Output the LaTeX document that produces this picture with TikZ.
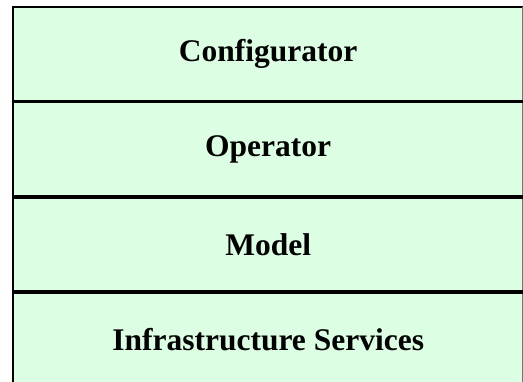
\documentclass[tikz,border=0pt]{standalone}
\usepackage{fontspec}
\setmainfont{Liberation Serif}
\definecolor{layerfill}{HTML}{DCFFE4}
\begin{document}
\begin{tikzpicture}[x=1pt,y=-1pt,
  layer/.style={fill=layerfill, inner sep=0pt, minimum width=510pt, anchor=north west,
                font=\fontsize{31.5}{34}\selectfont\bfseries},
  frame/.style={line width=2pt, draw=black},
  divider/.style={line width=3.5pt, draw=black}]
  \useasboundingbox (0,0) rectangle (523,381);
  % stacked layers, top to bottom
  \node[layer, minimum height=94pt] (conf) at (13,7) {Configurator};
  \node[layer, minimum height=95pt] (oper) at (conf.south west) {Operator};
  \node[layer, minimum height=95pt] (model) at (oper.south west) {Model};
  \node[layer, minimum height=94pt] (infra) at (model.south west) {Infrastructure Services};
  % outer frame
  \draw[frame] (infra.south west) -- (conf.north west) -- (conf.north east) -- (infra.south east);
  \draw[frame, draw=black!55] (conf.north east) -- (infra.south east);
  % dividers between layers
  \draw[divider] (conf.south west) -- (conf.south east);
  \draw[divider] (oper.south west) -- (oper.south east);
  \draw[divider] (model.south west) -- (model.south east);
\end{tikzpicture}
\end{document}
